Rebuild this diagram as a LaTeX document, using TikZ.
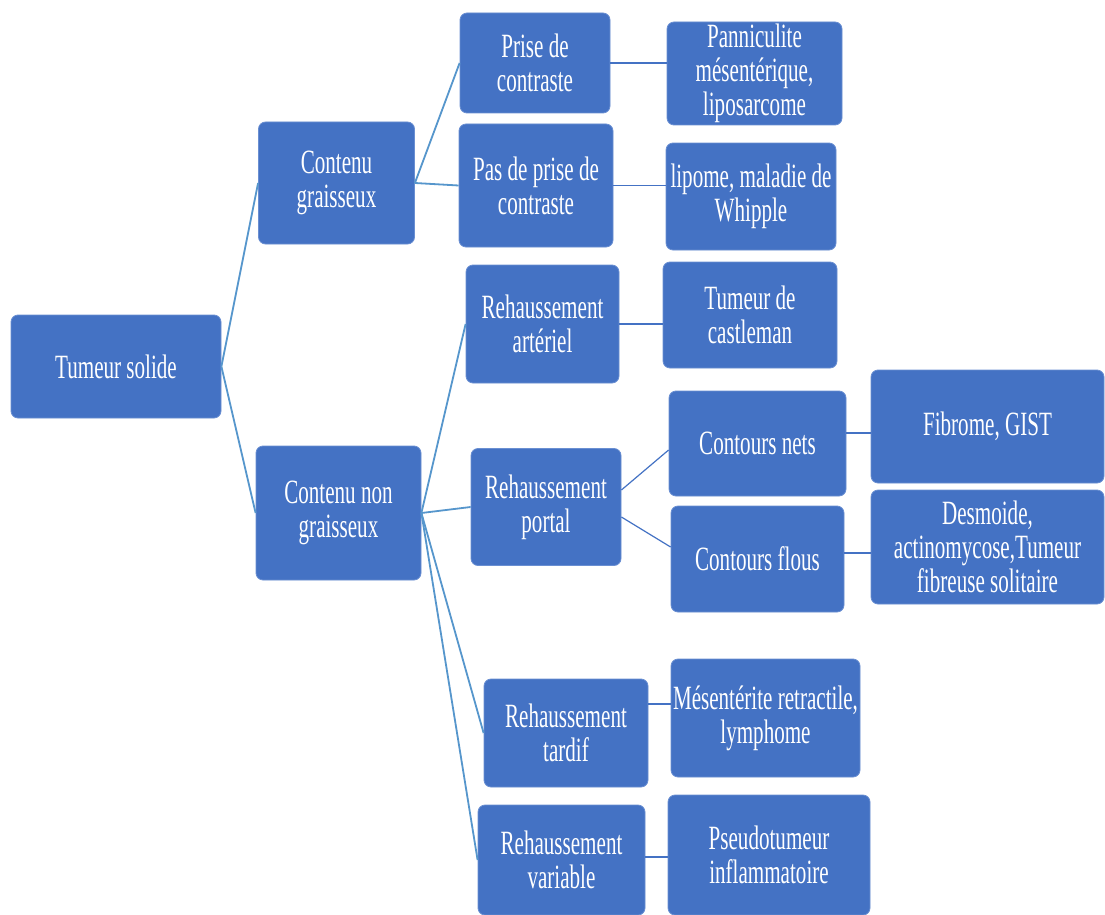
\documentclass[tikz,border=0pt]{standalone}
\usepackage{fontspec}
\setmainfont{Liberation Serif}[FakeStretch=0.62]
\usetikzlibrary{calc}
\definecolor{boxblue}{HTML}{4472C4}
\definecolor{boxedge}{HTML}{6A8FD2}
\definecolor{forkblue}{HTML}{5696CC}
\definecolor{linkblue}{HTML}{4472C4}
\begin{document}
\begin{tikzpicture}[x=1pt,y=-1pt,
  box/.style={rectangle, rounded corners=7pt, fill=boxblue, draw=boxedge, line width=0.8pt,
    text=white, align=center, inner sep=0pt, font=\fontsize{34}{34}\selectfont},
  fork/.style={draw=forkblue, line width=1.8pt},
  link/.style={draw=linkblue, line width=1.2pt}]
\useasboundingbox (0,0) rectangle (1105,915);
\fill[white] (0,0) rectangle (1105,915);

\node[box, minimum width=210pt, minimum height=103pt] (ts) at (116,366.5) {Tumeur solide};
\node[box, minimum width=156pt, minimum height=122pt] (cg) at (336.5,183) {Contenu\\graisseux};
\node[box, minimum width=165pt, minimum height=134pt] (cng) at (338.5,513) {Contenu non\\graisseux};
\node[box, minimum width=150pt, minimum height=100pt] (pc) at (535,63) {Prise de\\contraste};
\node[box, minimum width=154pt, minimum height=123pt] (ppc) at (536,185.5) {Pas de prise de\\contraste};
\node[box, minimum width=175pt, minimum height=103pt] (pan) at (754.5,73.5) {Panniculite\\mésentérique,\\liposarcome};
\node[box, minimum width=170pt, minimum height=107pt] (lip) at (751,196.5) {lipome, maladie de\\Whipple};
\node[box, minimum width=153pt, minimum height=118pt] (ra) at (542.5,324) {Rehaussement\\artériel};
\node[box, minimum width=174pt, minimum height=106pt] (cas) at (750,315) {Tumeur de\\castleman};
\node[box, minimum width=150pt, minimum height=117pt] (rp) at (546,507) {Rehaussement\\portal};
\node[box, minimum width=177pt, minimum height=105pt] (cn) at (757.5,443.5) {Contours nets};
\node[box, minimum width=173pt, minimum height=106pt] (cf) at (757.5,559) {Contours flous};
\node[box, minimum width=233pt, minimum height=113pt] (fib) at (987.5,426.5) {Fibrome, GIST};
\node[box, minimum width=233pt, minimum height=114pt] (des) at (987.5,547) {Desmoide,\\actinomycose,Tumeur\\fibreuse solitaire};
\node[box, minimum width=164pt, minimum height=108pt] (rt) at (566,733) {Rehaussement\\tardif};
\node[box, minimum width=189pt, minimum height=118pt] (mes) at (765.5,718) {Mésentérite retractile,\\lymphome};
\node[box, minimum width=167pt, minimum height=110pt] (rv) at (561.5,860) {Rehaussement\\variable};
\node[box, minimum width=202pt, minimum height=120pt] (ps) at (769,855) {Pseudotumeur\\inflammatoire};

% tree forks
\draw[fork] (ts.east) -- (cg.west);
\draw[fork] (ts.east) -- (cng.west);
\draw[fork] (cg.east) -- (pc.west);
\draw[fork] (cg.east) -- (ppc.west);
\draw[fork] (cng.east) -- (ra.west);
\draw[fork] (cng.east) -- (rp.west);
\draw[fork] (cng.east) -- (rt.west);
\draw[fork] (cng.east) -- (rv.west);

% short links
\draw[link] (pc.east) -- (pc.east -| pan.west);
\draw[link] (ppc.east) -- (ppc.east -| lip.west);
\draw[link] (ra.east) -- (ra.east -| cas.west);
\draw[link] ($(rp.east)+(0,-17)$) -- ($(cn.west)+(0,6.5)$);
\draw[link] ($(rp.east)+(0,10)$) -- ($(cf.west)+(0,-12)$);
\coordinate (a1) at ($(cn.east)+(0,-10.5)$);
\draw[link] (a1) -- (a1 -| fib.west);
\coordinate (a2) at ($(cf.east)+(0,-6)$);
\draw[link] (a2) -- (a2 -| des.west);
\coordinate (a3) at ($(rt.east)+(0,-29)$);
\draw[link] (a3) -- (a3 -| mes.west);
\coordinate (a4) at ($(rv.east)+(0,-3)$);
\draw[link] (a4) -- (a4 -| ps.west);
\end{tikzpicture}
\end{document}
